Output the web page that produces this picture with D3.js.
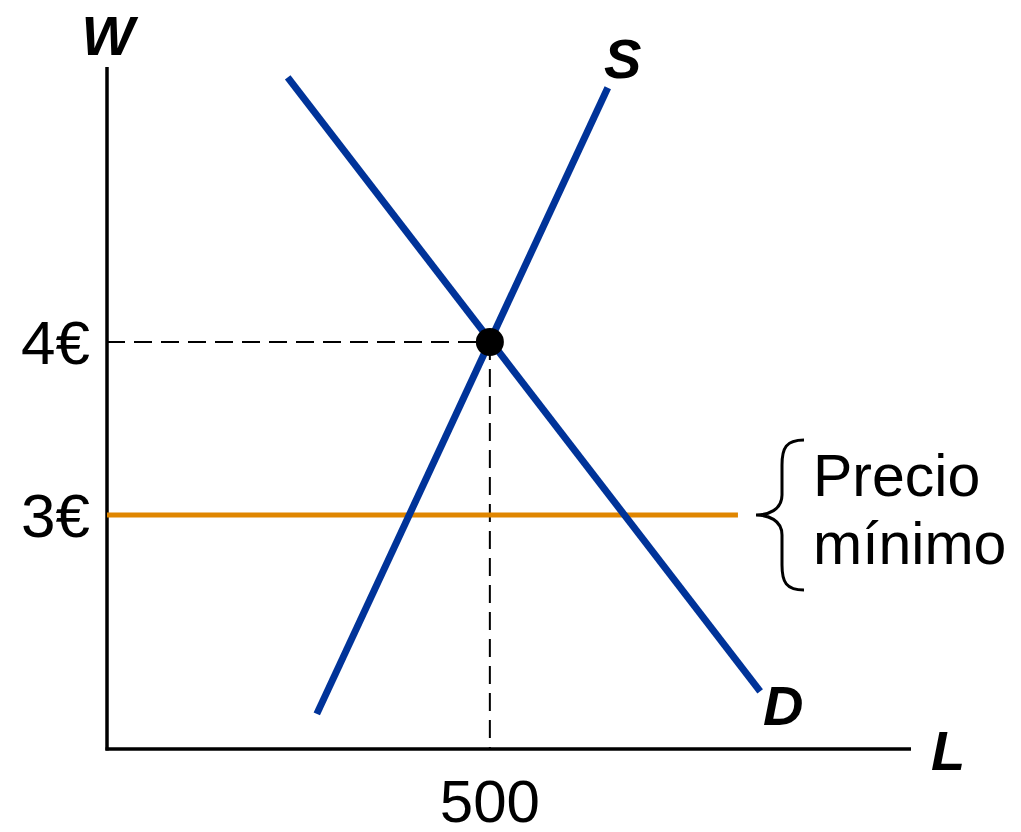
<!DOCTYPE html>
<html>
<head>
<meta charset="utf-8">
<script src="https://cdn.jsdelivr.net/npm/d3@7"></script>
<style>
  html, body { margin: 0; padding: 0; background: #fff; }
  svg { display: block; font-family: "Liberation Sans", Arial, sans-serif; }
</style>
</head>
<body>
<div id="chart"></div>
<script>
// labour market with a price floor
const supplyL = [274, 654];
const supplyW = [1.85, 5.47];
const demandL = [236, 853];
const demandW = [5.53, 1.98];
const equilibrium = { L: 500, W: 4 };
const floorW = 3;
const floorEndL = 824;
const yTicks = [{ value: 4, label: "4€" }, { value: 3, label: "3€" }];
const xTicks = [{ value: 500, label: "500" }];
const floorLabel = ["Precio", "mínimo"];

const width = 1021;
const height = 832;

const x = d3.scaleLinear().domain([0, 1050]).range([107, 911]);
const y = d3.scaleLinear().domain([1.647, 5.59]).range([749, 67]);

const svg = d3.select("#chart")
  .append("svg")
  .attr("width", width)
  .attr("height", height);

// axes
svg.append("line")
  .attr("x1", x(0)).attr("y1", y.range()[0] + 1.5)
  .attr("x2", x(0)).attr("y2", y.range()[1])
  .attr("stroke", "#000").attr("stroke-width", 3.5);
svg.append("line")
  .attr("x1", x(0) - 1.5).attr("y1", y.range()[0])
  .attr("x2", x.range()[1]).attr("y2", y.range()[0])
  .attr("stroke", "#000").attr("stroke-width", 3.5);

// dashed guides
svg.append("line")
  .attr("x1", x(0)).attr("y1", y(equilibrium.W))
  .attr("x2", x(equilibrium.L)).attr("y2", y(equilibrium.W))
  .attr("stroke", "#000").attr("stroke-width", 2)
  .attr("stroke-dasharray", "18,9");
svg.append("line")
  .attr("x1", x(equilibrium.L)).attr("y1", y(equilibrium.W))
  .attr("x2", x(equilibrium.L)).attr("y2", y.range()[0])
  .attr("stroke", "#000").attr("stroke-width", 2)
  .attr("stroke-dasharray", "18,9");

// price floor
svg.append("line")
  .attr("x1", x(0)).attr("y1", y(floorW))
  .attr("x2", x(floorEndL)).attr("y2", y(floorW))
  .attr("stroke", "#e08600").attr("stroke-width", 5);

// supply and demand
const line = d3.line().x(d => x(d[0])).y(d => y(d[1]));
svg.append("path")
  .attr("d", line(d3.zip(supplyL, supplyW)))
  .attr("fill", "none").attr("stroke", "#003399").attr("stroke-width", 7);
svg.append("path")
  .attr("d", line(d3.zip(demandL, demandW)))
  .attr("fill", "none").attr("stroke", "#003399").attr("stroke-width", 7);

svg.append("circle")
  .attr("cx", x(equilibrium.L)).attr("cy", y(equilibrium.W))
  .attr("r", 14).attr("fill", "#000");

// tick labels
svg.selectAll(".ytick")
  .data(yTicks)
  .enter()
  .append("text")
  .attr("class", "ytick")
  .attr("x", 90)
  .attr("y", d => y(d.value))
  .attr("dy", "0.36em")
  .attr("text-anchor", "end")
  .attr("font-size", 62)
  .text(d => d.label);

svg.selectAll(".xtick")
  .data(xTicks)
  .enter()
  .append("text")
  .attr("class", "xtick")
  .attr("x", d => x(d.value))
  .attr("y", 822)
  .attr("text-anchor", "middle")
  .attr("font-size", 60)
  .text(d => d.label);

// axis and curve names
const names = [
  { t: "W", x: 108, y: 55, anchor: "middle" },
  { t: "L", x: 931, y: 770, anchor: "start" },
  { t: "S", x: 604, y: 78, anchor: "start" },
  { t: "D", x: 763, y: 725, anchor: "start" }
];
svg.selectAll(".name")
  .data(names)
  .enter()
  .append("text")
  .attr("class", "name")
  .attr("x", d => d.x)
  .attr("y", d => d.y)
  .attr("text-anchor", d => d.anchor)
  .attr("font-size", 56)
  .attr("font-weight", "bold")
  .attr("font-style", "italic")
  .text(d => d.t);

// brace and label
const bx = 756, by = y(floorW), bTop = by - 75, bBot = by + 75;
svg.append("path")
  .attr("d", `M${bx + 48},${bTop} C${bx + 30},${bTop} ${bx + 26},${bTop + 8} ${bx + 26},${bTop + 25}
    L${bx + 26},${by - 20} C${bx + 26},${by - 5} ${bx + 12},${by} ${bx},${by}
    C${bx + 12},${by} ${bx + 26},${by + 5} ${bx + 26},${by + 20}
    L${bx + 26},${bBot - 25} C${bx + 26},${bBot - 8} ${bx + 30},${bBot} ${bx + 48},${bBot}`)
  .attr("fill", "none").attr("stroke", "#000").attr("stroke-width", 3);

svg.selectAll(".floor-label")
  .data(floorLabel)
  .enter()
  .append("text")
  .attr("class", "floor-label")
  .attr("x", 813)
  .attr("y", (d, i) => 496 + i * 68)
  .attr("font-size", 59)
  .text(d => d);
</script>
</body>
</html>
